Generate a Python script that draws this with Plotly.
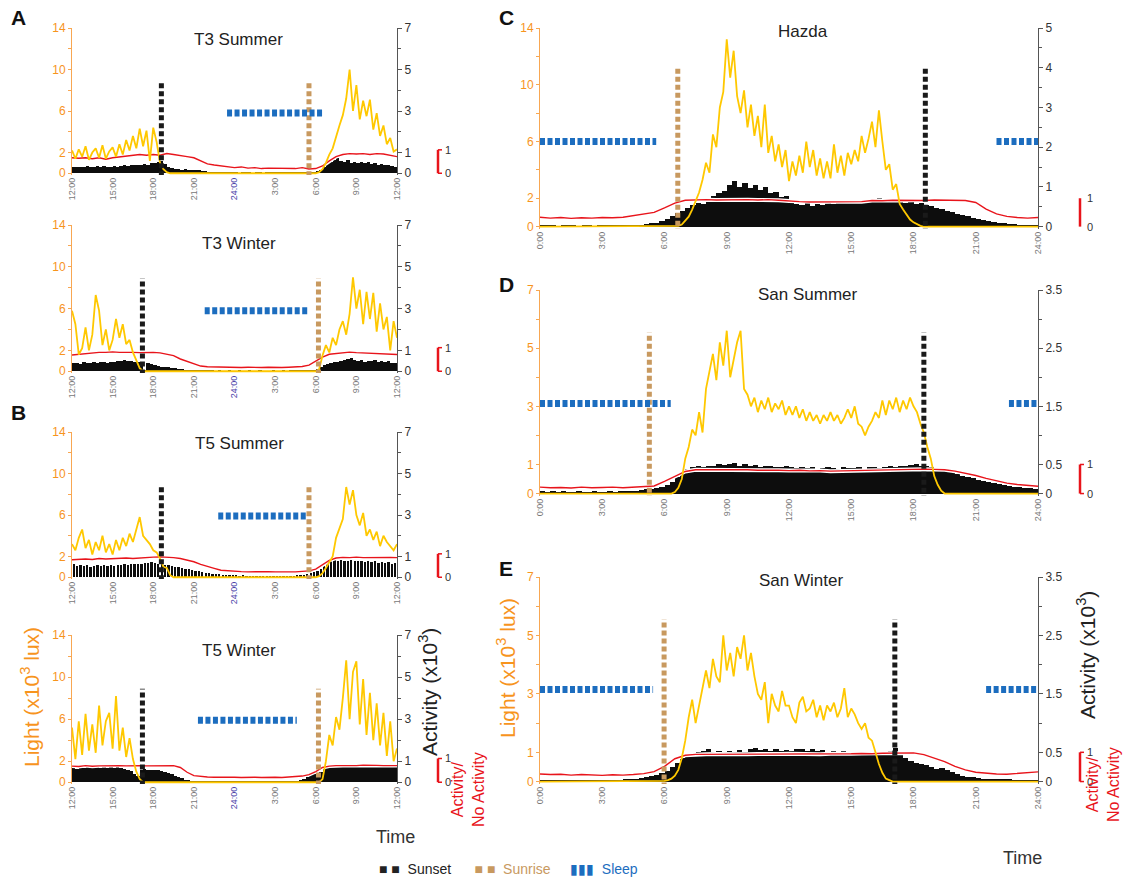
import plotly.graph_objects as go

# ---------------- DATA ----------------
panel_names = ["T3 Summer", "T3 Winter", "T5 Summer", "T5 Winter", "Hazda", "San Summer", "San Winter"]

left_tickvals = [12, 15, 18, 21, 24, 27, 30, 33, 36]
left_ticktext = ["12:00", "15:00", "18:00", "21:00", "<span style='color:#4a3fa8'>24:00</span>",
                 "3:00", "6:00", "9:00", "12:00"]
right_tickvals = [0, 3, 6, 9, 12, 15, 18, 21, 24]
right_ticktext = ["0:00", "3:00", "6:00", "9:00", "12:00", "15:00", "18:00", "21:00", "24:00"]

# light (x10^3 lux); left panels: 15-min samples (97), right panels: 10-min samples (145)
light_t3_summer = [2.2, 1.4, 2.3, 1.6, 2.6, 1.3, 2.0, 2.4, 1.5, 2.7, 1.4, 2.1,
                   2.5, 1.6, 2.8, 1.8, 3.2, 2.2, 3.6, 2.4, 4.3, 2.6, 4.1, 1.2,
                   4.4, 3.0, 1.0, 0.4, 0.1, 0, 0, 0, 0, 0, 0, 0,
                   0, 0, 0, 0, 0, 0, 0, 0, 0, 0, 0, 0,
                   0, 0, 0, 0, 0, 0, 0, 0, 0, 0, 0, 0,
                   0, 0, 0, 0, 0, 0, 0, 0, 0, 0, 0, 0,
                   0, 0.1, 0.4, 1.0, 1.8, 2.4, 3.6, 4.6, 5.6, 7.2, 10.0, 6.0,
                   8.5, 5.2, 7.0, 5.5, 7.1, 4.2, 5.8, 3.6, 4.6, 2.8, 3.4, 2.1,
                   2.3]
light_t3_winter = [5.8, 4.5, 1.6, 2.2, 4.2, 2.0, 3.5, 7.3, 5.8, 2.5, 4.0, 2.0,
                   3.0, 5.0, 3.2, 4.5, 2.6, 3.0, 1.8, 1.0, 0.3, 0, 0, 0,
                   0, 0, 0, 0, 0, 0, 0, 0, 0, 0, 0, 0,
                   0, 0, 0, 0, 0, 0, 0, 0, 0, 0, 0, 0,
                   0, 0, 0, 0, 0, 0, 0, 0, 0, 0, 0, 0,
                   0, 0, 0, 0, 0, 0, 0, 0, 0, 0, 0, 0,
                   0, 0.2, 1.5, 2.5, 1.8, 3.2, 2.5, 4.0, 4.8, 3.5, 5.5, 9.0,
                   6.0, 7.8, 4.5, 7.6, 5.0, 7.5, 3.8, 6.5, 4.0, 5.2, 2.0, 4.8,
                   3.2]
light_t5_summer = [3.2, 2.6, 3.8, 4.6, 2.8, 3.6, 2.2, 3.4, 2.6, 4.0, 2.4, 3.2,
                   2.2, 3.6, 2.6, 3.8, 3.0, 4.2, 3.4, 4.6, 5.8, 4.0, 3.6, 3.2,
                   2.6, 2.4, 1.8, 1.0, 0.9, 0.2, 0, 0, 0, 0, 0, 0,
                   0, 0, 0, 0, 0, 0, 0, 0, 0, 0, 0, 0,
                   0, 0, 0, 0, 0, 0, 0, 0, 0, 0, 0, 0,
                   0, 0, 0, 0, 0, 0, 0, 0, 0, 0, 0, 0,
                   0, 0.1, 0.4, 0.9, 1.5, 2.0, 3.8, 4.8, 5.6, 8.7, 7.0, 8.4,
                   6.0, 5.0, 6.2, 4.0, 4.6, 3.6, 4.4, 3.0, 4.0, 3.4, 3.0, 2.6,
                   3.2]
light_t5_winter = [5.2, 2.2, 5.8, 2.6, 6.5, 3.0, 5.5, 2.8, 7.3, 3.5, 5.8, 6.6,
                   3.2, 8.2, 3.0, 5.2, 2.4, 4.2, 2.2, 1.0, 0.3, 0, 0, 0,
                   0, 0, 0, 0, 0, 0, 0, 0, 0, 0, 0, 0,
                   0, 0, 0, 0, 0, 0, 0, 0, 0, 0, 0, 0,
                   0, 0, 0, 0, 0, 0, 0, 0, 0, 0, 0, 0,
                   0, 0, 0, 0, 0, 0, 0, 0, 0, 0, 0, 0,
                   0, 0, 0.3, 2.0, 4.5, 3.5, 6.2, 5.0, 8.0, 11.6, 6.0, 10.5,
                   11.5, 5.5, 9.8, 4.5, 8.5, 4.0, 7.5, 3.5, 6.6, 2.5, 5.8, 2.0,
                   3.2]
light_hazda = [0, 0, 0, 0, 0, 0, 0, 0, 0, 0, 0, 0,
               0, 0, 0, 0, 0, 0, 0, 0, 0, 0, 0, 0,
               0, 0, 0, 0, 0, 0, 0, 0, 0, 0, 0, 0,
               0, 0, 0, 0, 0.05, 0.15,
               0.4, 0.7, 1.2, 1.8, 2.4, 3.3,
               4.5, 3.8, 6.5, 5.6, 8.4, 9.5,
               13.2, 10.5, 12.4, 9.2, 8.0, 9.6,
               7.0, 8.6, 6.4, 7.8, 5.6, 8.6,
               5.2, 6.4, 4.6, 5.8, 4.2, 5.4,
               3.2, 4.6, 3.6, 5.0, 3.8, 6.0,
               4.2, 5.4, 3.6, 4.8, 3.4, 4.6,
               3.4, 5.8, 3.8, 5.0, 3.6, 5.2,
               4.4, 5.4, 4.6, 6.4, 5.2, 6.2,
               7.4, 5.6, 8.2, 6.0, 4.0, 4.4,
               2.6, 3.0, 1.6, 1.2, 0.8, 0.5,
               0.3, 0.15, 0.05, 0, 0, 0,
               0, 0, 0, 0, 0, 0, 0, 0, 0, 0, 0, 0,
               0, 0, 0, 0, 0, 0, 0, 0, 0, 0, 0, 0,
               0, 0, 0, 0, 0, 0,
               0]
light_san_summer = [0, 0, 0, 0, 0, 0, 0, 0, 0, 0, 0, 0,
                    0, 0, 0, 0, 0, 0, 0, 0, 0, 0, 0, 0,
                    0, 0, 0, 0, 0, 0, 0, 0, 0, 0, 0, 0,
                    0, 0, 0, 0.05, 0.2, 0.5,
                    1.2, 1.6, 2.2, 2.0, 2.8, 2.1,
                    3.6, 4.2, 4.8, 3.9, 5.2, 4.4,
                    5.6, 4.0, 4.6, 5.2, 5.6, 3.6,
                    3.4, 3.0, 3.3, 2.8, 3.2, 2.9,
                    3.3, 2.8, 3.1, 2.9, 3.2, 2.7,
                    3.0, 2.7, 3.0, 2.6, 2.9, 2.5,
                    2.8, 2.5, 2.7, 2.4, 2.7, 2.5,
                    2.8, 2.5, 2.7, 2.4, 2.6, 2.9,
                    2.6, 3.0, 2.4, 2.3, 2.0, 2.3,
                    2.5, 2.8, 2.6, 3.2, 2.7, 3.2,
                    2.9, 3.3, 2.8, 3.2, 2.9, 3.3,
                    3.0, 2.8, 2.4, 2.1, 1.6, 1.2,
                    0.6, 0.3, 0.1, 0, 0, 0,
                    0, 0, 0, 0, 0, 0, 0, 0, 0, 0, 0, 0,
                    0, 0, 0, 0, 0, 0, 0, 0, 0, 0, 0, 0,
                    0]
light_san_winter = [0, 0, 0, 0, 0, 0, 0, 0, 0, 0, 0, 0,
                    0, 0, 0, 0, 0, 0, 0, 0, 0, 0, 0, 0,
                    0, 0, 0, 0, 0, 0, 0, 0, 0, 0, 0, 0,
                    0.02, 0.05, 0.1, 0.2, 0.4, 0.8,
                    1.4, 2.2, 2.8, 2.0, 2.6, 3.2,
                    3.8, 3.2, 4.2, 3.6, 3.4, 5.0,
                    3.8, 4.4, 3.6, 4.6, 4.2, 5.0,
                    3.8, 4.4, 3.6, 3.0, 2.8, 3.4,
                    2.0, 3.0, 2.6, 2.4, 3.1, 2.6,
                    2.6, 2.2, 2.0, 2.7, 2.9, 2.4,
                    2.5, 2.8, 2.2, 2.6, 2.1, 2.6,
                    2.4, 2.7, 2.2, 2.5, 3.2, 2.2,
                    2.5, 2.3, 2.0, 1.8, 2.0, 1.5,
                    1.4, 1.0, 0.6, 0.3, 0.1, 0.05,
                    0, 0, 0, 0, 0, 0,
                    0, 0, 0, 0, 0, 0, 0, 0, 0, 0, 0, 0,
                    0, 0, 0, 0, 0, 0, 0, 0, 0, 0, 0, 0,
                    0, 0, 0, 0, 0, 0, 0, 0, 0, 0, 0, 0,
                    0]

# activity (x10^3 counts), 15-min bins, 96 values per panel
act_t3_summer = [0.3, 0.28, 0.32, 0.3, 0.35, 0.3, 0.28, 0.33, 0.3, 0.36, 0.3, 0.32,
                 0.34, 0.3, 0.36, 0.38, 0.35, 0.4, 0.38, 0.42, 0.4, 0.45, 0.42, 0.48,
                 0.5, 0.55, 0.6, 0.45, 0.3, 0.25, 0.22, 0.2, 0.18, 0.2, 0.17, 0.15,
                 0.15, 0.14, 0.12, 0.1, 0.08, 0.06, 0.05, 0.04, 0.03, 0.03, 0.02, 0.02,
                 0.02, 0.01, 0.02, 0.03, 0.02, 0.01, 0.02, 0.02, 0.01, 0.02, 0.03, 0.02,
                 0.02, 0.02, 0.02, 0.03, 0.03, 0.03, 0.04, 0.04, 0.05, 0.05, 0.06, 0.08,
                 0.1, 0.15, 0.3, 0.45, 0.55, 0.65, 0.72, 0.6, 0.55, 0.62, 0.5, 0.56,
                 0.5, 0.55, 0.48, 0.52, 0.45, 0.5, 0.42, 0.45, 0.4, 0.38, 0.35, 0.32]
act_t3_winter = [0.38, 0.4, 0.36, 0.42, 0.4, 0.38, 0.43, 0.4, 0.45, 0.42, 0.4, 0.44,
                 0.45, 0.5, 0.47, 0.52, 0.48, 0.5, 0.46, 0.42, 0.38, 0.05, 0.4, 0.35,
                 0.3, 0.25, 0.22, 0.2, 0.18, 0.15, 0.14, 0.12, 0.1, 0.08, 0.07, 0.06,
                 0.04, 0.03, 0.03, 0.02, 0.02, 0.02, 0.01, 0.02, 0.01, 0.01, 0.02, 0.01,
                 0.01, 0.02, 0.01, 0.01, 0.02, 0.01, 0.01, 0.02, 0.01, 0.01, 0.01, 0.02,
                 0.01, 0.01, 0.02, 0.01, 0.02, 0.02, 0.03, 0.03, 0.04, 0.05, 0.05, 0.08,
                 0.12, 0.2, 0.3, 0.35, 0.4, 0.42, 0.45, 0.5, 0.55, 0.6, 0.65, 0.55,
                 0.5, 0.55, 0.45, 0.5, 0.48, 0.52, 0.45, 0.5, 0.42, 0.48, 0.4, 0.38]
act_t5_summer = [0.62, 0.55, 0.6, 0.52, 0.58, 0.5, 0.55, 0.6, 0.52, 0.58, 0.55, 0.6,
                 0.56, 0.6, 0.58, 0.62, 0.6, 0.65, 0.62, 0.66, 0.64, 0.7, 0.68, 0.72,
                 0.7, 0.66, 0.62, 0.6, 0.58, 0.55, 0.5, 0.48, 0.45, 0.4, 0.38, 0.35,
                 0.32, 0.28, 0.25, 0.22, 0.2, 0.18, 0.15, 0.14, 0.12, 0.12, 0.1, 0.1,
                 0.09, 0.08, 0.09, 0.08, 0.07, 0.08, 0.07, 0.07, 0.06, 0.07, 0.06, 0.06,
                 0.06, 0.07, 0.06, 0.07, 0.08, 0.08, 0.1, 0.1, 0.12, 0.15, 0.2, 0.25,
                 0.3, 0.4, 0.55, 0.7, 0.8, 0.82, 0.8, 0.84, 0.8, 0.78, 0.82, 0.78,
                 0.76, 0.8, 0.74, 0.78, 0.72, 0.76, 0.7, 0.74, 0.68, 0.72, 0.66, 0.7]
act_t5_winter = [0.7, 0.65, 0.72, 0.68, 0.75, 0.7, 0.66, 0.72, 0.68, 0.74, 0.7, 0.72,
                 0.68, 0.75, 0.7, 0.65, 0.6, 0.55, 0.4, 0.3, 0.6, 0.62, 0.6, 0.58,
                 0.6, 0.58, 0.55, 0.5, 0.45, 0.4, 0.32, 0.25, 0.18, 0.12, 0.1, 0.08,
                 0.07, 0.06, 0.06, 0.05, 0.05, 0.04, 0.05, 0.04, 0.04, 0.05, 0.04, 0.04,
                 0.04, 0.05, 0.04, 0.04, 0.05, 0.04, 0.04, 0.04, 0.05, 0.04, 0.04, 0.04,
                 0.04, 0.04, 0.05, 0.05, 0.05, 0.06, 0.08, 0.1, 0.15, 0.25, 0.35, 0.4,
                 0.45, 0.5, 0.62, 0.7, 0.74, 0.76, 0.78, 0.75, 0.77, 0.8, 0.76, 0.78,
                 0.76, 0.8, 0.78, 0.75, 0.78, 0.8, 0.76, 0.78, 0.74, 0.76, 0.72, 0.74]
act_hazda = [0.03, 0.02, 0.02, 0.01, 0.03, 0.02, 0.02, 0.01, 0.02, 0.02, 0.01, 0.02,
             0.02, 0.02, 0.03, 0.02, 0.03, 0.04, 0.04, 0.05, 0.06, 0.08, 0.1, 0.14,
             0.2, 0.26, 0.34, 0.4, 0.48, 0.55, 0.6, 0.58, 0.7, 0.78, 0.85, 0.9,
             1.05, 1.15, 1.0, 1.1, 0.98, 1.05, 0.92, 1.0, 0.85, 0.88, 0.75, 0.78,
             0.62, 0.58, 0.55, 0.6, 0.52, 0.56, 0.55, 0.6, 0.58, 0.62, 0.6, 0.64,
             0.62, 0.66, 0.64, 0.7, 0.68, 0.72, 0.66, 0.7, 0.62, 0.66, 0.6, 0.62,
             0.58, 0.6, 0.55, 0.52, 0.48, 0.45, 0.4, 0.38, 0.32, 0.3, 0.26, 0.22,
             0.2, 0.16, 0.14, 0.12, 0.1, 0.08, 0.07, 0.06, 0.05, 0.04, 0.03, 0.03]
act_san_summer = [0.04, 0.03, 0.04, 0.03, 0.04, 0.03, 0.03, 0.04, 0.03, 0.03, 0.04, 0.03,
                  0.03, 0.04, 0.03, 0.04, 0.04, 0.05, 0.05, 0.06, 0.07, 0.08, 0.1, 0.12,
                  0.15, 0.2, 0.28, 0.36, 0.42, 0.45, 0.47, 0.46, 0.48, 0.47, 0.5, 0.49,
                  0.5, 0.52, 0.48, 0.5, 0.47, 0.49, 0.46, 0.48, 0.47, 0.46, 0.45, 0.47,
                  0.45, 0.44, 0.46, 0.44, 0.45, 0.43, 0.44, 0.45, 0.44, 0.43, 0.45, 0.44,
                  0.44, 0.45, 0.43, 0.45, 0.46, 0.44, 0.45, 0.47, 0.46, 0.48, 0.47, 0.49,
                  0.5, 0.48, 0.47, 0.45, 0.44, 0.42, 0.4, 0.38, 0.34, 0.3, 0.28, 0.26,
                  0.24, 0.22, 0.2, 0.18, 0.16, 0.14, 0.13, 0.12, 0.11, 0.1, 0.09, 0.08]
act_san_winter = [0.03, 0.02, 0.03, 0.03, 0.02, 0.03, 0.03, 0.02, 0.03, 0.02, 0.03, 0.02,
                  0.03, 0.03, 0.02, 0.03, 0.04, 0.04, 0.05, 0.06, 0.08, 0.1, 0.12, 0.15,
                  0.18, 0.25, 0.32, 0.4, 0.45, 0.48, 0.5, 0.52, 0.55, 0.5, 0.53, 0.5,
                  0.52, 0.5, 0.54, 0.51, 0.55, 0.58, 0.54, 0.56, 0.53, 0.55, 0.52, 0.54,
                  0.53, 0.55, 0.56, 0.53, 0.55, 0.52, 0.54, 0.51, 0.53, 0.5, 0.52, 0.5,
                  0.51, 0.49, 0.5, 0.48, 0.5, 0.47, 0.49, 0.52, 0.58, 0.45, 0.4, 0.35,
                  0.32, 0.3, 0.28, 0.25, 0.22, 0.24, 0.2, 0.16, 0.13, 0.1, 0.08, 0.07,
                  0.06, 0.05, 0.05, 0.04, 0.04, 0.04, 0.04, 0.03, 0.03, 0.03, 0.03, 0.03]

# activity / no activity fraction, 30-min samples, 49 values per panel
ratio_t3_summer = [0.66, 0.64, 0.66, 0.62, 0.66, 0.6, 0.66, 0.69, 0.75, 0.77, 0.8, 0.77,
                   0.8, 0.77, 0.84, 0.8, 0.77, 0.71, 0.66, 0.53, 0.4, 0.35, 0.31, 0.27,
                   0.24, 0.27, 0.22, 0.24, 0.2, 0.22, 0.22, 0.2, 0.22, 0.2, 0.24, 0.18,
                   0.2, 0.31, 0.53, 0.71, 0.8, 0.84, 0.82, 0.84, 0.8, 0.84, 0.82, 0.75,
                   0.71]
ratio_t3_winter = [0.69, 0.72, 0.76, 0.78, 0.8, 0.8, 0.82, 0.8, 0.81, 0.8, 0.79, 0.81,
                   0.8, 0.78, 0.72, 0.66, 0.52, 0.42, 0.3, 0.22, 0.19, 0.18, 0.17, 0.18,
                   0.17, 0.16, 0.17, 0.15, 0.16, 0.17, 0.15, 0.16, 0.17, 0.18, 0.2, 0.26,
                   0.42, 0.6, 0.72, 0.76, 0.8, 0.81, 0.79, 0.78, 0.76, 0.77, 0.74, 0.73,
                   0.71]
ratio_t5_summer = [0.75, 0.77, 0.78, 0.76, 0.8, 0.78, 0.8, 0.79, 0.82, 0.8, 0.83, 0.84,
                   0.86, 0.87, 0.86, 0.84, 0.8, 0.74, 0.66, 0.55, 0.45, 0.38, 0.3, 0.27,
                   0.25, 0.24, 0.23, 0.24, 0.22, 0.24, 0.23, 0.22, 0.24, 0.23, 0.25, 0.27,
                   0.35, 0.52, 0.72, 0.82, 0.85, 0.84, 0.86, 0.84, 0.85, 0.83, 0.84, 0.85,
                   0.84]
ratio_t5_winter = [0.68, 0.66, 0.7, 0.67, 0.69, 0.7, 0.68, 0.7, 0.69, 0.71, 0.7, 0.69,
                   0.7, 0.71, 0.72, 0.7, 0.62, 0.42, 0.28, 0.24, 0.22, 0.21, 0.22, 0.2,
                   0.21, 0.2, 0.22, 0.21, 0.2, 0.22, 0.21, 0.2, 0.22, 0.24, 0.26, 0.32,
                   0.45, 0.62, 0.68, 0.7, 0.69, 0.71, 0.7, 0.72, 0.7, 0.71, 0.7, 0.69,
                   0.7]
ratio_hazda = [0.33, 0.3, 0.32, 0.29, 0.31, 0.3, 0.32, 0.31, 0.33, 0.38, 0.43, 0.5,
               0.66, 0.83, 0.93, 0.95, 0.95, 0.94, 0.95, 0.94, 0.95, 0.94, 0.95, 0.93,
               0.9, 0.88, 0.87, 0.87, 0.88, 0.87, 0.89, 0.88, 0.92, 0.91, 0.93, 0.92,
               0.93, 0.92, 0.94, 0.93, 0.93, 0.92, 0.85, 0.62, 0.45, 0.36, 0.32, 0.3,
               0.32]
ratio_san_summer = [0.22, 0.2, 0.21, 0.19, 0.22, 0.2, 0.21, 0.22, 0.2, 0.22, 0.24, 0.26,
                    0.42, 0.6, 0.76, 0.82, 0.82, 0.82, 0.83, 0.81, 0.82, 0.8, 0.81, 0.8,
                    0.79, 0.8, 0.78, 0.79, 0.77, 0.78, 0.79, 0.8, 0.79, 0.81, 0.82, 0.83,
                    0.84, 0.84, 0.83, 0.82, 0.77, 0.7, 0.62, 0.52, 0.43, 0.36, 0.31, 0.28,
                    0.25]
ratio_san_winter = [0.26, 0.24, 0.25, 0.22, 0.24, 0.22, 0.21, 0.23, 0.22, 0.24, 0.27, 0.34,
                    0.52, 0.78, 0.9, 0.93, 0.93, 0.94, 0.93, 0.95, 0.93, 0.94, 0.93, 0.94,
                    0.95, 0.94, 0.95, 0.93, 0.95, 0.94, 0.95, 0.96, 0.95, 0.97, 0.97, 0.98,
                    0.98, 0.92, 0.8, 0.68, 0.52, 0.4, 0.32, 0.28, 0.26, 0.25, 0.27, 0.3,
                    0.33]

# event times (hours on each panel's time axis)
sunset_times = [18.6, 17.2, 18.6, 17.2, 18.57, 18.5, 17.1]
sunrise_times = [29.5, 30.2, 29.5, 30.2, 6.64, 5.27, 5.98]
sleep_intervals = [[(23.45, 30.6)], [(21.8, 29.4)], [(22.8, 29.3)], [(21.3, 28.6)],
                   [(0, 5.6), (22.0, 24)], [(0, 6.3), (22.6, 24)], [(0, 5.45), (21.5, 24)]]
sleep_levels = [5.8, 5.8, 5.9, 5.9, 6.0, 3.1, 3.15]

light_series = [light_t3_summer, light_t3_winter, light_t5_summer, light_t5_winter,
                light_hazda, light_san_summer, light_san_winter]
act_series = [act_t3_summer, act_t3_winter, act_t5_summer, act_t5_winter,
              act_hazda, act_san_summer, act_san_winter]
ratio_series = [ratio_t3_summer, ratio_t3_winter, ratio_t5_summer, ratio_t5_winter,
                ratio_hazda, ratio_san_summer, ratio_san_winter]

# ---------------- STYLE / LAYOUT ----------------
W, H = 1127, 878
FONT = "Liberation Sans, Arial, Helvetica, sans-serif"
ORANGE = "#F7941D"
YELLOW = "#FFC800"
RED = "#E8141B"
SUNSET = "#1a1a1a"
SUNRISE = "#C8995F"
SLEEP = "#1C6DBF"


def fx(p):
    return p / W


def fy(p):
    return 1 - p / H


# per-panel geometry in pixels: x0, x1, ytop, ybottom
geo = [(72, 397, 28, 175), (72, 397, 225, 373), (72, 397, 432, 579), (72, 397, 635, 784),
       (540, 1038, 28, 229), (540, 1038, 290, 496), (540, 1038, 577, 784)]
t_start = [12, 12, 12, 12, 0, 0, 0]
light_top = [14, 14, 14, 14, 14, 7, 7]
act_top = [7, 7, 7, 7, 5, 3.5, 3.5]
ratio_top = [6.2, 6.2, 6.2, 6.2, 7, 7, 7]
event_span = [(-0.3, 8.9)] * 4 + [(-0.5, 11.2), (-0.25, 5.54), (-0.2, 5.55)]
title_pos = [(238, 40), (239, 243), (239, 443), (239, 650), (803, 32), (808, 295), (801, 580)]
bar_width = [0.25, 0.25, 0.17, 0.25, 0.25, 0.25, 0.25]

# major (labelled) and minor (unlabelled) ticks
light_major14 = [0, 2, 6, 10, 14]
light_minor14 = [4, 8, 12]
light_major7 = [0, 1, 3, 5, 7]
light_minor7 = [2, 4, 6]
act_major7 = [0, 1, 3, 5, 7]
act_minor7 = [2, 4, 6]
act_major5 = [0, 1, 2, 3, 4, 5]
act_minor5 = [0.5, 1.5, 2.5, 3.5, 4.5]
act_major35 = [0, 0.5, 1.5, 2.5, 3.5]
act_minor35 = [1, 2, 3]
light_ticks = [(light_major14, light_minor14)] * 5 + [(light_major7, light_minor7)] * 2
act_ticks = [(act_major7, act_minor7)] * 4 + [(act_major5, act_minor5),
                                              (act_major35, act_minor35), (act_major35, act_minor35)]

PAD = 0.012
fig = go.Figure()
layout = {}
shapes = []
annotations = []


def yid(n):
    return "y" if n == 1 else f"y{n}"


def ykey(n):
    return "yaxis" if n == 1 else f"yaxis{n}"


def note(text, px_, py_, size, color, angle=0):
    annotations.append(dict(text=text, x=fx(px_), y=fy(py_), xref="paper", yref="paper",
                            xanchor="center", yanchor="middle", textangle=angle,
                            showarrow=False, font=dict(size=size, color=color, family=FONT)))


for i in range(7):
    xn = i + 1
    xid = "x" if xn == 1 else f"x{xn}"
    xkey = "xaxis" if xn == 1 else f"xaxis{xn}"
    ya, yr, yl = 3 * i + 1, 3 * i + 2, 3 * i + 3
    x0, x1, yt, yb = geo[i]
    t0 = t_start[i]
    left = i < 4

    # activity bars (base layer)
    fig.add_trace(go.Bar(
        x=[t0 + 0.125 + 0.25 * k for k in range(len(act_series[i]))],
        y=act_series[i], width=bar_width[i],
        marker=dict(color="#0d0d0d", line=dict(width=0)),
        xaxis=xid, yaxis=yid(ya), hoverinfo="skip"))
    # activity / no-activity ratio
    tr = [t0 + 0.5 * k for k in range(len(ratio_series[i]))]
    fig.add_trace(go.Scatter(x=tr, y=ratio_series[i], mode="lines",
                             line=dict(color="white", width=4),
                             xaxis=xid, yaxis=yid(yr), hoverinfo="skip"))
    fig.add_trace(go.Scatter(x=tr, y=ratio_series[i], mode="lines",
                             line=dict(color=RED, width=1.4),
                             xaxis=xid, yaxis=yid(yr), hoverinfo="skip"))
    # light
    step = 0.25 if left else 1 / 6
    tl = [t0 + step * k for k in range(len(light_series[i]))]
    fig.add_trace(go.Scatter(x=tl, y=light_series[i], mode="lines",
                             line=dict(color=YELLOW, width=1.8),
                             xaxis=xid, yaxis=yid(yl), hoverinfo="skip"))
    # sunrise / sunset
    lo, hi = event_span[i]
    fig.add_trace(go.Scatter(x=[sunrise_times[i]] * 2, y=[lo, hi], mode="lines",
                             line=dict(color=SUNRISE, width=5, dash="5px,3px"),
                             xaxis=xid, yaxis=yid(yl), hoverinfo="skip"))
    fig.add_trace(go.Scatter(x=[sunset_times[i]] * 2, y=[lo, hi], mode="lines",
                             line=dict(color=SUNSET, width=5, dash="5px,3px"),
                             xaxis=xid, yaxis=yid(yl), hoverinfo="skip"))
    # sleep
    for (s, e) in sleep_intervals[i]:
        fig.add_trace(go.Scatter(x=[s, e], y=[sleep_levels[i]] * 2, mode="lines",
                                 line=dict(color=SLEEP, width=7, dash="5px,2.5px"),
                                 xaxis=xid, yaxis=yid(yl), hoverinfo="skip"))

    layout[xkey] = dict(
        domain=[fx(x0), fx(x1)], range=[t0, t0 + 24], anchor=yid(ya), automargin=False,
        tickmode="array",
        tickvals=left_tickvals if left else right_tickvals,
        ticktext=left_ticktext if left else right_ticktext,
        tickangle=-90, tickfont=dict(size=9, color="#777777", family=FONT),
        showline=False, showgrid=False, zeroline=False, ticks="")
    at = act_top[i]
    amaj, amin = act_ticks[i]
    layout[ykey(ya)] = dict(
        domain=[fy(yb), fy(yt)], range=[-PAD * at, at], anchor=xid, side="right",
        automargin=False,
        showline=True, linecolor="#555555", linewidth=1, ticks="outside", ticklen=4,
        tickcolor="#555555", tickmode="array", tickvals=amaj,
        ticktext=[f"{v:g}" for v in amaj],
        minor=dict(tickmode="array", tickvals=amin, ticks="outside", ticklen=3,
                   tickcolor="#555555", showgrid=False),
        tickfont=dict(size=12, color="#333333", family=FONT),
        showgrid=False, zeroline=False)
    rt = ratio_top[i]
    layout[ykey(yr)] = dict(overlaying=yid(ya), anchor=xid, range=[-PAD * rt, rt],
                            automargin=False, visible=False, showgrid=False, zeroline=False)
    lt = light_top[i]
    lmaj, lmin = light_ticks[i]
    layout[ykey(yl)] = dict(
        overlaying=yid(ya), anchor=xid, side="left", range=[-PAD * lt, lt],
        automargin=False,
        showline=True, linecolor="#F8A752", linewidth=1, ticks="outside", ticklen=3,
        tickcolor="#F8A752", tickmode="array", tickvals=lmaj,
        ticktext=[f"{v:g}" for v in lmaj],
        minor=dict(tickmode="array", tickvals=lmin, ticks="outside", ticklen=3,
                   tickcolor="#F8A752", showgrid=False),
        tickfont=dict(size=12, color=ORANGE, family=FONT),
        showgrid=False, zeroline=False)

    # panel title
    tx, ty = title_pos[i]
    note(panel_names[i], tx, ty, 17, "#222222")

    # red 0..1 scale bar for the ratio line
    bx = 438 if left else 1080
    shapes.append(dict(type="line", xref="paper", yref=yid(yr), x0=fx(bx), x1=fx(bx),
                       y0=0, y1=1, line=dict(color=RED, width=2.5)))
    if i != 4:
        for yy in (0, 1):
            shapes.append(dict(type="line", xref="paper", yref=yid(yr), x0=fx(bx), x1=fx(bx + 4),
                               y0=yy, y1=yy, line=dict(color=RED, width=1.5)))
    for val in (0, 1):
        annotations.append(dict(text=str(val), x=fx(bx + 5), y=val, xref="paper", yref=yid(yr),
                                xanchor="left", yanchor="middle", showarrow=False,
                                font=dict(size=11, color="#333333", family=FONT)))

# panel letters
for letter, (px_, py_) in zip(["A", "B", "C", "D", "E"],
                              [(18, 18), (18, 412), (506, 18), (506, 284), (506, 568)]):
    note(f"<b>{letter}</b>", px_, py_, 21, "#111111")

# axis titles
for (lx, ly), (ax_, ay_), (rx, ry), (tx, ty) in [((30, 697), (428, 692), (468, 790), (395, 837)),
                                                  ((506, 668), (1086, 655), (1103, 785), (1022, 858))]:
    note("Light (x10<sup>3</sup> lux)", lx, ly, 21, ORANGE, -90)
    note("Activity (x10<sup>3</sup>)", ax_, ay_, 21, "#222222", -90)
    note("Activity/<br>No Activity", rx, ry, 16, RED, -90)
    note("Time", tx, ty, 18, "#333333")

# bottom legend
note("<span style='color:#222'>■ ■</span>  <span style='color:#222'>Sunset</span>"
     "      <span style='color:#C8995F'>■ ■  Sunrise</span>"
     "     <span style='color:#1C6DBF'>▮▮▮  Sleep</span>", 508, 869, 14, "#222222")

fig.update_layout(**layout)
fig.update_layout(width=W, height=H, margin=dict(l=0, r=0, t=0, b=0, autoexpand=False),
                  paper_bgcolor="white", plot_bgcolor="white", showlegend=False,
                  font=dict(family=FONT), shapes=shapes, annotations=annotations,
                  bargap=0)
fig.write_html("out.html", config={"displayModeBar": False},
               post_script="document.body.style.margin='0px';")
